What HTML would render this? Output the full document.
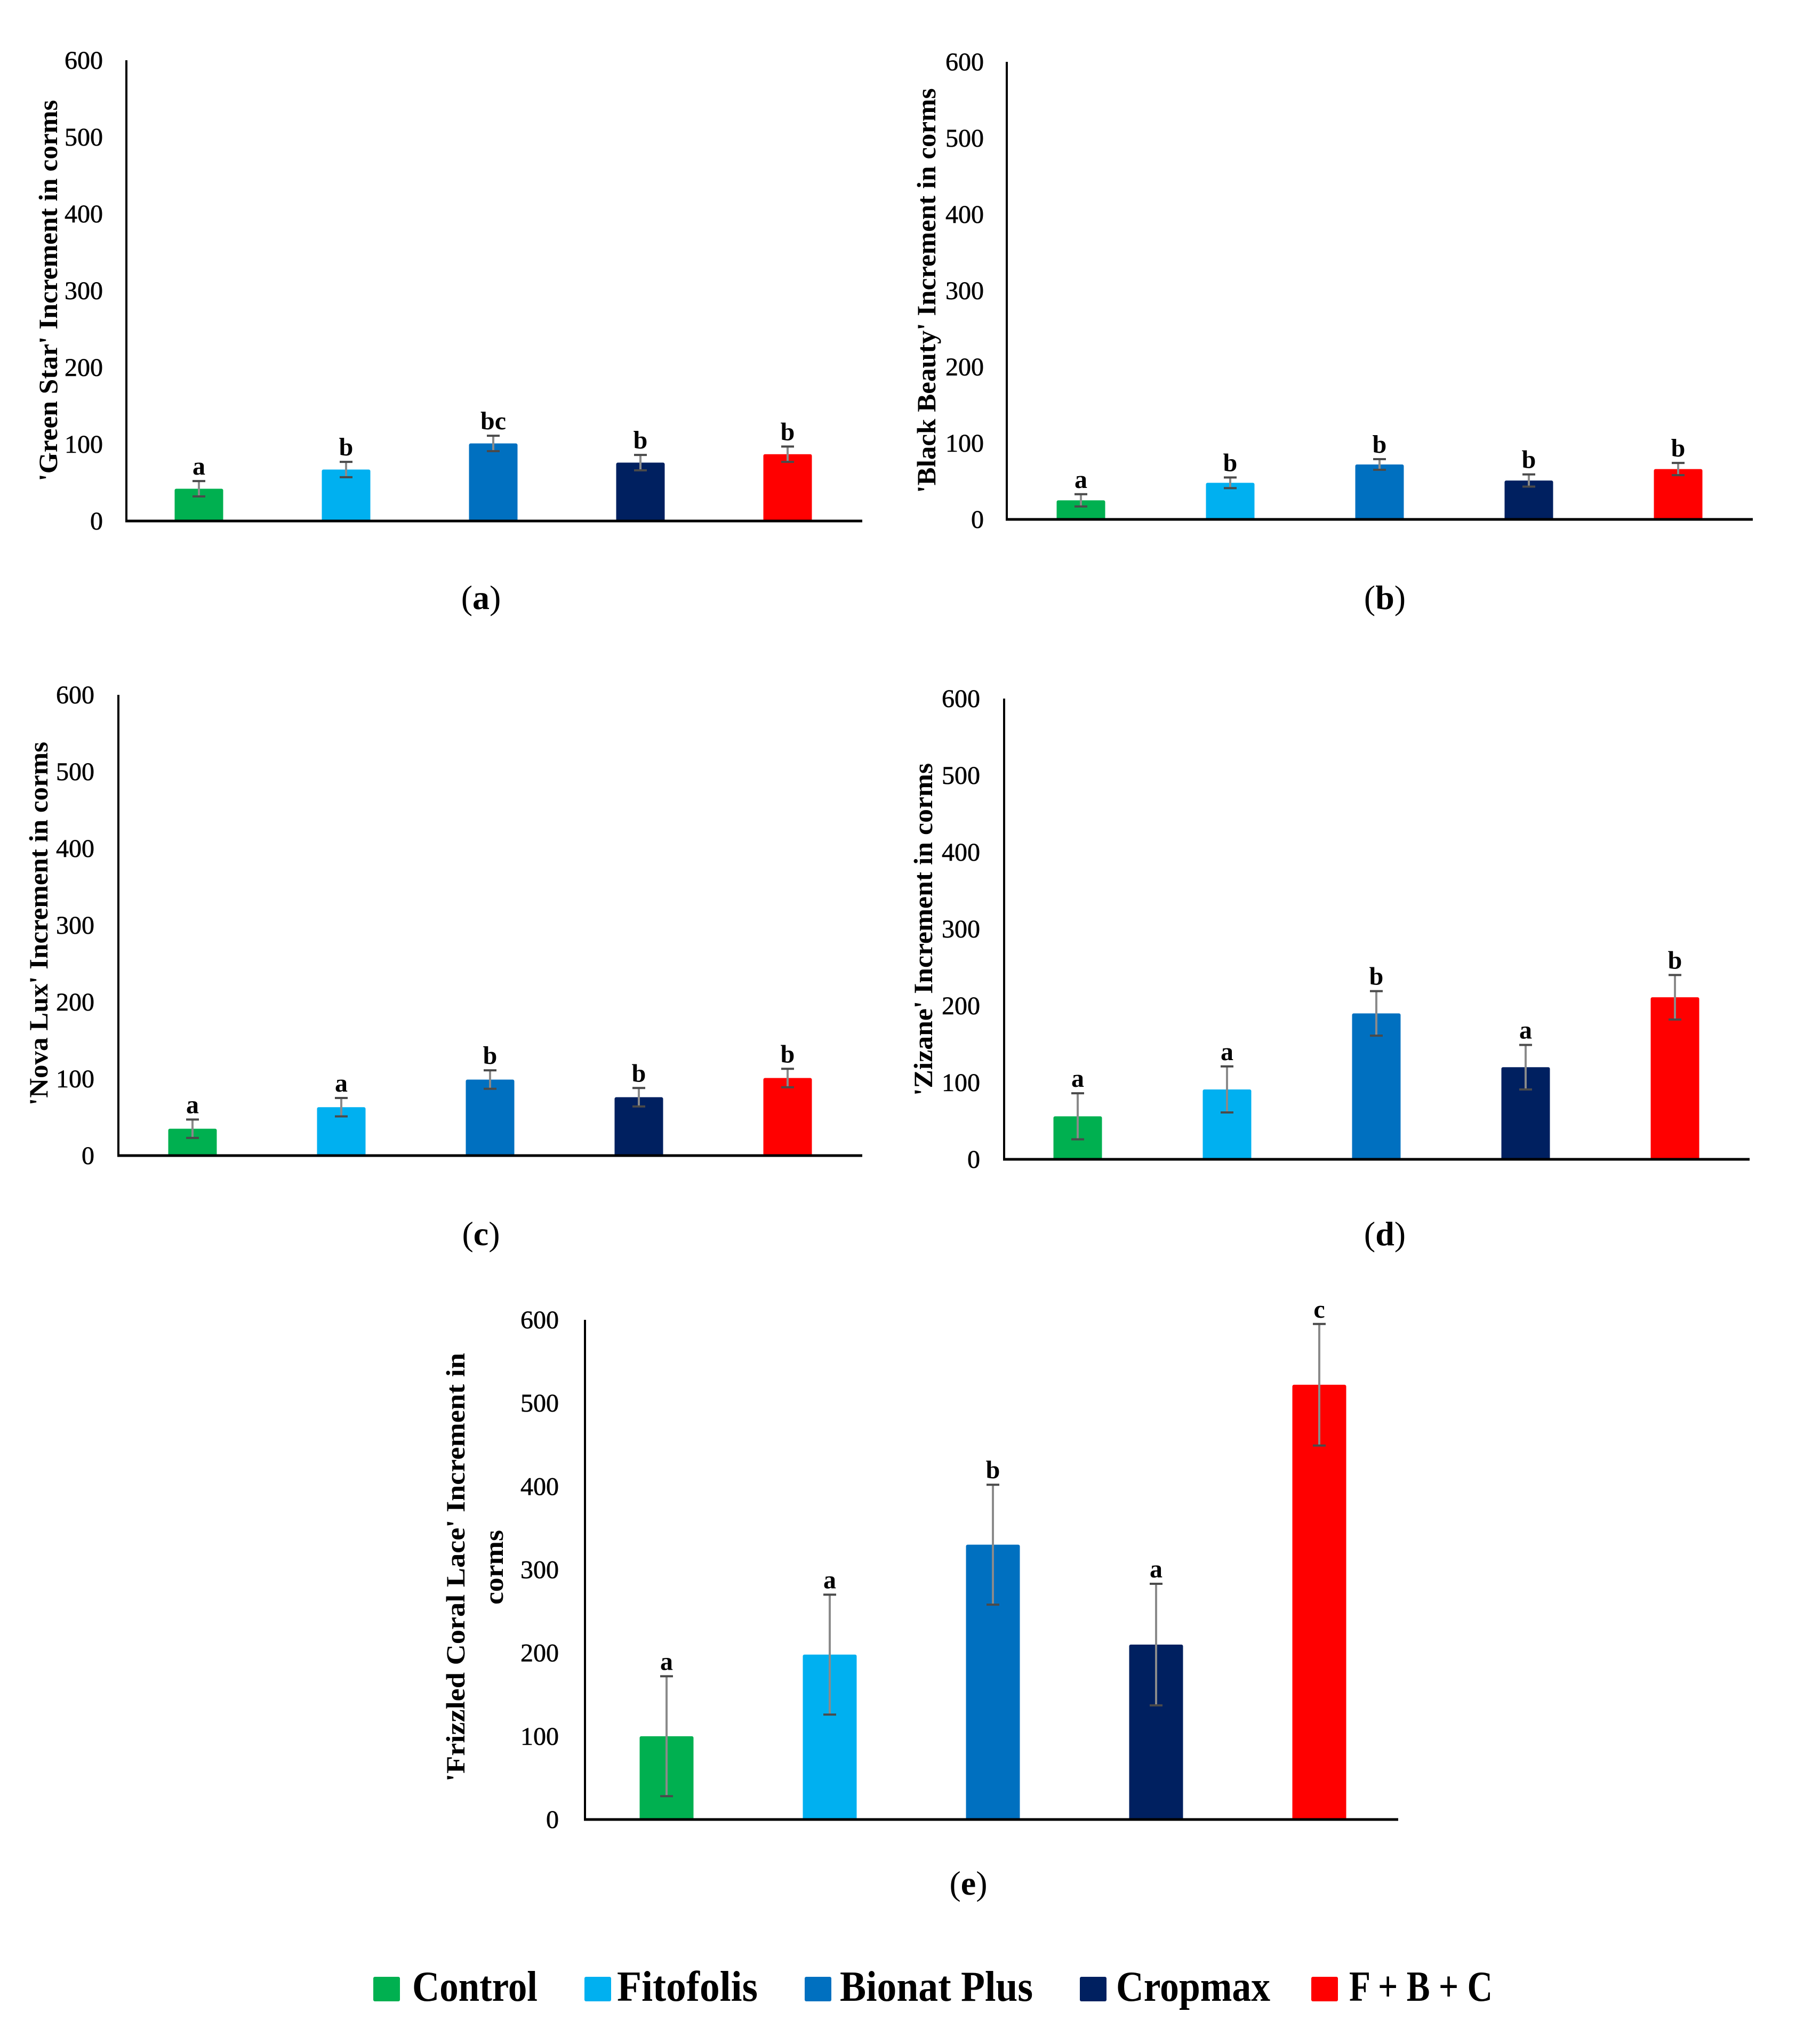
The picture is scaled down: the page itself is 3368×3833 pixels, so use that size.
<!DOCTYPE html>
<html><head><meta charset="utf-8"><style>
html,body{margin:0;padding:0;background:#fff;}
svg{display:block;}
text{font-family:"Liberation Serif",serif;fill:#000;}
</style></head><body>
<svg id="fig" width="3368" height="3833" viewBox="0 0 3368 3833" xmlns="http://www.w3.org/2000/svg">
<g id="legend"></g>
</svg>
<script>
const categories = ["Control","Fitofolis","Bionat Plus","Cropmax","F + B + C"];
const colors = ["#00B050","#00B0F0","#0070C0","#002060","#FF0000"];
const ticks = [0,100,200,300,400,500,600];
const valuesA = [42,67,101,76,87];
const errorsA = [10,10,10,10,10];
const lettersA = ["a","b","bc","b","b"];
const valuesB = [25,48,72,51,66];
const errorsB = [8,7,7,8,8];
const lettersB = ["a","b","b","b","b"];
const valuesC = [35,63,99,76,101];
const errorsC = [12,12,12,12,12];
const lettersC = ["a","a","b","b","b"];
const valuesD = [56,91,190,120,211];
const errorsD = [30,30,29,29,29];
const lettersD = ["a","a","b","a","b"];
const valuesE = [100,198,330,210,522];
const errorsE = [72,72,72,73,73];
const lettersE = ["a","a","b","a","c"];

const NS = "http://www.w3.org/2000/svg";
const svg = document.getElementById('fig');
function mk(tag, attrs, parent){
  const e = document.createElementNS(NS, tag);
  for (const k in attrs) e.setAttribute(k, attrs[k]);
  (parent||svg).appendChild(e);
  return e;
}

const panels = [
  {id:'a', vals:valuesA, errs:errorsA, lets:lettersA, ax:237, right:1617, top:113, base:977, x0:373, step:276, bw:91, tickR:193,
   title:["'Green Star' Increment in corms"], tx:[91], ty:545, tlen:[715], lx:902, ly:1122},
  {id:'b', vals:valuesB, errs:errorsB, lets:lettersB, ax:1888, right:3287, top:116, base:974, x0:2027, step:280, bw:91, tickR:1845,
   title:["'Black Beauty' Increment in corms"], tx:[1738], ty:545, tlen:[759], lx:2597, ly:1122},
  {id:'c', vals:valuesC, errs:errorsC, lets:lettersC, ax:222, right:1617, top:1303, base:2167, x0:361, step:279, bw:91, tickR:177,
   title:["'Nova Lux' Increment in corms"], tx:[73], ty:1732, tlen:[682], lx:902, ly:2315},
  {id:'d', vals:valuesD, errs:errorsD, lets:lettersD, ax:1883, right:3281, top:1310, base:2174, x0:2021, step:280, bw:91, tickR:1838,
   title:["'Zizane' Increment in corms"], tx:[1732], ty:1743, tlen:[624], lx:2597, ly:2315},
  {id:'e', vals:valuesE, errs:errorsE, lets:lettersE, ax:1097, right:2622, top:2475, base:3412, x0:1250, step:306, bw:101, tickR:1048,
   title:["'Frizzled Coral Lace' Increment in","corms"], tx:[855,927], ty:2939, tlen:[804,140], lx:1816, ly:3533}
];

panels.forEach(p => {
  const g = mk('g', {});
  
  
  const y = v => p.base - (v/600)*(p.base - p.top);
  const x = i => p.x0 + i*p.step;
  ticks.forEach(t => {
    const tl = mk('text', {x:p.tickR, y:y(t)+16, 'text-anchor':'end', 'font-size':48, stroke:'#000', 'stroke-width':0.6}, g);
    tl.textContent = t;
    
    
  });
  p.vals.forEach((v,i) => {
    const r = mk('rect', {x:x(i)-p.bw/2, y:y(v), width:p.bw, height:p.base-y(v), fill:colors[i], rx:3}, g);
    
    
    const e = p.errs[i];
    const eb = mk('g', {}, g);
    
    
    mk('line', {x1:x(i), x2:x(i), y1:y(v+e), y2:y(v-e), stroke:'#8a8a8a', 'stroke-width':4}, eb);
    mk('line', {x1:x(i)-12, x2:x(i)+12, y1:y(v+e), y2:y(v+e), stroke:'#4a4a4a', 'stroke-width':4}, eb);
    mk('line', {x1:x(i)-12, x2:x(i)+12, y1:y(v-e), y2:y(v-e), stroke:'#4a4a4a', 'stroke-width':4}, eb);
    const lt = mk('text', {x:x(i), y:y(v+e)-12, 'text-anchor':'middle', 'font-size':48, 'font-weight':'bold'}, g);
    lt.textContent = p.lets[i];
    
    
  });
  const ya = mk('line', {x1:p.ax, x2:p.ax, y1:p.top, y2:p.base, stroke:'#000', 'stroke-width':4}, g);
  
  
  const xa = mk('line', {x1:p.ax-2, x2:p.right, y1:p.base, y2:p.base, stroke:'#000', 'stroke-width':5}, g);
  
  
  p.title.forEach((t,k) => {
    const tt = mk('text', {x:p.tx[k]+16, y:p.ty, 'text-anchor':'middle', 'font-size':50, 'font-weight':'bold',
      textLength:p.tlen[k], lengthAdjust:'spacingAndGlyphs', transform:'rotate(-90 '+(p.tx[k]+16)+' '+p.ty+')'}, g);
    tt.textContent = t;
    
    
  });
  const pl = mk('text', {x:p.lx, y:p.ly+20, 'text-anchor':'middle', 'font-size':64}, g);
  pl.innerHTML = '(<tspan font-weight="bold">' + p.id + '</tspan>)';
  
  
});

const legendSq = [700,1096,1509,2025,2459];
const legendTx = [773,1157,1575,2093,2530];
const legendLen = [235,264,362,289,269];
const lg = document.getElementById('legend');
categories.forEach((c,i) => {
  const it = mk('g', {}, lg);
  
  
  mk('rect', {x:legendSq[i], y:3707, width:50, height:46, fill:colors[i], rx:3}, it);
  const t = mk('text', {x:legendTx[i], y:3752, 'font-size':80, 'font-weight':'bold', textLength:legendLen[i], lengthAdjust:'spacingAndGlyphs'}, it);
  t.textContent = c;
});
</script>
</body></html>
